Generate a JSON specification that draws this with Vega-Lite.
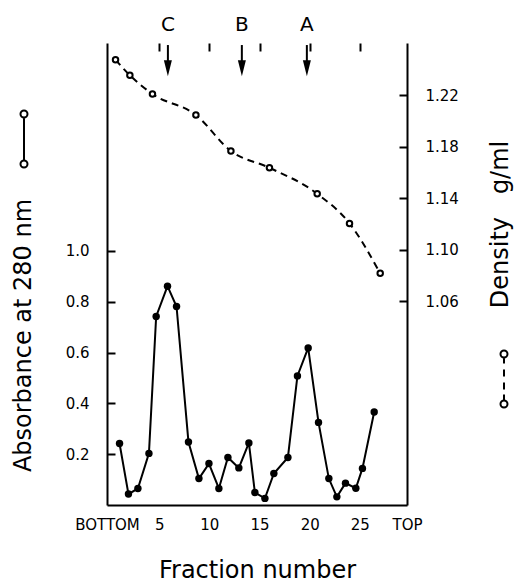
{
  "$schema": "https://vega.github.io/schema/vega-lite/v6.json",
  "width": 300,
  "height": 462,
  "autosize": {"type": "none"},
  "padding": {"left": 107, "top": 43, "right": 109, "bottom": 77},
  "background": "white",
  "config": {
    "view": {"stroke": null},
    "font": "DejaVu Sans",
    "axis": {
      "domain": false, "ticks": false, "tickSize": 0, "offset": 0,
      "labelColor": "black", "titleColor": "black",
      "gridColor": "black", "gridWidth": 2, "gridOpacity": 1,
      "labelFont": "DejaVu Sans", "titleFont": "DejaVu Sans", "titleFontWeight": "normal"
    }
  },
  "datasets": {
    "absorbance": [
      {"fraction": 1.05, "absorbance": 0.242},
      {"fraction": 1.94, "absorbance": 0.043},
      {"fraction": 2.88, "absorbance": 0.065},
      {"fraction": 3.98, "absorbance": 0.203},
      {"fraction": 4.70, "absorbance": 0.742},
      {"fraction": 5.83, "absorbance": 0.861},
      {"fraction": 6.73, "absorbance": 0.781},
      {"fraction": 7.92, "absorbance": 0.248},
      {"fraction": 8.96, "absorbance": 0.104},
      {"fraction": 9.96, "absorbance": 0.163},
      {"fraction": 10.95, "absorbance": 0.065},
      {"fraction": 11.85, "absorbance": 0.187},
      {"fraction": 12.94, "absorbance": 0.146},
      {"fraction": 13.94, "absorbance": 0.244},
      {"fraction": 14.54, "absorbance": 0.049},
      {"fraction": 15.54, "absorbance": 0.026},
      {"fraction": 16.43, "absorbance": 0.124},
      {"fraction": 17.83, "absorbance": 0.187},
      {"fraction": 18.78, "absorbance": 0.508},
      {"fraction": 19.85, "absorbance": 0.618},
      {"fraction": 20.88, "absorbance": 0.325},
      {"fraction": 21.91, "absorbance": 0.104},
      {"fraction": 22.71, "absorbance": 0.032},
      {"fraction": 23.57, "absorbance": 0.086},
      {"fraction": 24.60, "absorbance": 0.066},
      {"fraction": 25.26, "absorbance": 0.144},
      {"fraction": 26.43, "absorbance": 0.366}
    ],
    "density": [
      {"fraction": 0.65, "density": 1.2474},
      {"fraction": 2.08, "density": 1.2353},
      {"fraction": 4.33, "density": 1.2208},
      {"fraction": 8.66, "density": 1.2045},
      {"fraction": 12.15, "density": 1.1765},
      {"fraction": 15.99, "density": 1.1635},
      {"fraction": 20.75, "density": 1.1433},
      {"fraction": 23.97, "density": 1.1203},
      {"fraction": 27.03, "density": 1.0815}
    ],
    "markers": [
      {"label": "C", "fraction": 5.87},
      {"label": "B", "fraction": 13.24},
      {"label": "A", "fraction": 19.72}
    ]
  },
  "layer": [
    {
      "data": {"name": "absorbance"},
      "mark": {"type": "line", "strokeWidth": 2},
      "encoding": {
        "x": {
          "field": "fraction", "type": "quantitative",
          "scale": {"domain": [-0.2, 29.7], "nice": false, "zero": false},
          "axis": {
            "values": [-0.2, 5, 10, 15, 20, 25, 29.7],
            "labelExpr": "datum.value < 1 ? 'BOTTOM' : (datum.value > 29 ? 'TOP' : format(datum.value, 'd'))",
            "labelPadding": 12, "labelFontSize": 15, "labelFont": "DejaVu Sans",
            "labelFlush": false, "labelOverlap": false,
            "grid": true,
            "gridDash": {"condition": {"test": "datum.value < 1 || datum.value > 29", "value": [2000, 1]}, "value": [8, 2000]},
            "title": "Fraction number", "titleFontSize": 24,
            "titleY": 65, "titleBaseline": "middle"
          }
        },
        "y": {
          "field": "absorbance", "type": "quantitative",
          "scale": {"domain": [0, 1.818], "nice": false, "zero": false},
          "axis": {
            "values": [0, 0.2, 0.4, 0.6, 0.8, 1.0],
            "labelExpr": "datum.value == 0 ? '' : format(datum.value, '.1f')",
            "labelPadding": 18, "labelFontSize": 15, "labelFont": "DejaVu Sans",
            "grid": true,
            "gridDash": {"condition": {"test": "datum.value == 0", "value": [2000, 1]}, "value": [8, 2000]},
            "title": "Absorbance at 280 nm", "titleFontSize": 24,
            "titleX": -84, "titleY": 292, "titleAngle": -90,
            "titleAlign": "center", "titleBaseline": "middle"
          }
        },
        "color": {
          "datum": "Absorbance",
          "scale": {"domain": ["Absorbance"], "range": ["black"]},
          "legend": {
            "orient": "none", "legendX": -109, "legendY": 70, "padding": 0,
            "title": null, "labelExpr": "''",
            "symbolType": "M0,-0.86L0,0.86M0.14,-1A0.14,0.14 0 1 1 -0.14,-1A0.14,0.14 0 1 1 0.14,-1M0.14,1A0.14,0.14 0 1 1 -0.14,1A0.14,0.14 0 1 1 0.14,1",
            "symbolSize": 2500, "symbolStrokeWidth": 2, "symbolStrokeColor": "black", "symbolFillColor": "white"
          }
        }
      }
    },
    {
      "data": {"name": "absorbance"},
      "mark": {"type": "point", "filled": true, "color": "black", "size": 55, "opacity": 1},
      "encoding": {
        "x": {"field": "fraction", "type": "quantitative"},
        "y": {"field": "absorbance", "type": "quantitative", "scale": {"domain": [0, 1.818], "nice": false, "zero": false}, "axis": null}
      }
    },
    {
      "data": {"name": "markers"},
      "mark": {"type": "rule", "color": "black", "strokeWidth": 2},
      "encoding": {
        "x": {"field": "fraction", "type": "quantitative"},
        "y": {"datum": 1.81, "type": "quantitative", "scale": {"domain": [0, 1.818], "nice": false, "zero": false}, "axis": null},
        "y2": {"datum": 1.74}
      }
    },
    {
      "data": {"name": "markers"},
      "mark": {"type": "point", "shape": "M-0.5,-1L0.5,-1L0,1Z", "filled": true, "color": "black", "size": 256, "opacity": 1},
      "encoding": {
        "x": {"field": "fraction", "type": "quantitative"},
        "y": {"datum": 1.719, "type": "quantitative", "scale": {"domain": [0, 1.818], "nice": false, "zero": false}, "axis": null}
      }
    },
    {
      "data": {"name": "markers"},
      "mark": {"type": "text", "fontSize": 20, "baseline": "middle", "align": "center", "color": "black"},
      "encoding": {
        "x": {"field": "fraction", "type": "quantitative"},
        "y": {"datum": 1.89, "type": "quantitative", "scale": {"domain": [0, 1.818], "nice": false, "zero": false}, "axis": null},
        "text": {"field": "label"}
      }
    },
    {
      "data": {"name": "density"},
      "mark": {"type": "line", "strokeWidth": 2, "strokeDash": [7, 5], "interpolate": "monotone"},
      "encoding": {
        "x": {"field": "fraction", "type": "quantitative"},
        "y": {
          "field": "density", "type": "quantitative",
          "scale": {"domain": [0.9016, 1.2604], "nice": false, "zero": false},
          "axis": {
            "orient": "right",
            "values": [1.06, 1.10, 1.14, 1.18, 1.22], "format": ".2f",
            "labelPadding": 18, "labelFontSize": 15, "labelFont": "DejaVu Sans",
            "grid": true, "gridDash": [8, 2000],
            "title": "Density\u00a0\u00a0\u00a0g/ml", "titleFontSize": 24,
            "titleX": 93, "titleY": 181, "titleAngle": -90,
            "titleAlign": "center", "titleBaseline": "middle"
          }
        },
        "color": {
          "datum": "Density",
          "scale": {"domain": ["Density"], "range": ["black"]},
          "legend": {
            "orient": "none", "legendX": 371, "legendY": 310, "padding": 0,
            "title": null, "labelExpr": "''",
            "symbolType": "M0,-0.86L0,-0.62M0,-0.38L0,-0.1M0,0.14L0,0.42M0,0.62L0,0.86M0.14,-1A0.14,0.14 0 1 1 -0.14,-1A0.14,0.14 0 1 1 0.14,-1M0.14,1A0.14,0.14 0 1 1 -0.14,1A0.14,0.14 0 1 1 0.14,1",
            "symbolSize": 2500, "symbolStrokeWidth": 2, "symbolStrokeColor": "black", "symbolFillColor": "white"
          }
        }
      }
    },
    {
      "data": {"name": "density"},
      "mark": {"type": "point", "filled": true, "fill": "white", "stroke": "black", "strokeWidth": 2, "size": 30, "opacity": 1},
      "encoding": {
        "x": {"field": "fraction", "type": "quantitative"},
        "y": {"field": "density", "type": "quantitative", "scale": {"domain": [0.9016, 1.2604], "nice": false, "zero": false}, "axis": null}
      }
    }
  ],
  "resolve": {"scale": {"y": "independent", "color": "independent"}}
}
